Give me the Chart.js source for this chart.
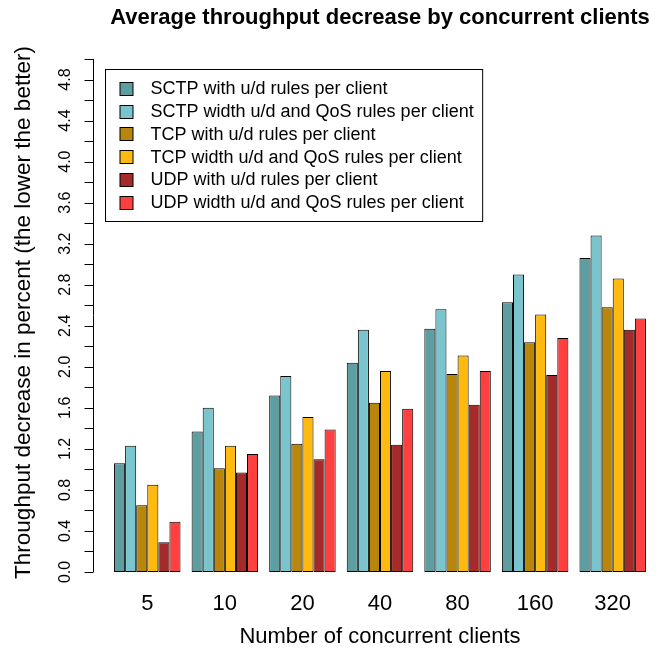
<!DOCTYPE html>
<html>
<head>
<meta charset="utf-8">
<script src="https://cdn.jsdelivr.net/npm/chart.js@4.4.1/dist/chart.umd.min.js"></script>
<style>
html, body { margin: 0; padding: 0; background: #fff; }
#wrap { width: 663px; height: 652px; }
</style>
</head>
<body>
<div id="wrap"><canvas id="chart" width="663" height="652"></canvas></div>
<script>
// data
const clients = ['5', '10', '20', '40', '80', '160', '320'];
const sctpUd  = [1.06, 1.37, 1.72, 2.04, 2.37, 2.63, 3.06];
const sctpQos = [1.23, 1.60, 1.91, 2.36, 2.56, 2.90, 3.28];
const tcpUd   = [0.65, 1.01, 1.25, 1.65, 1.93, 2.24, 2.58];
const tcpQos  = [0.85, 1.23, 1.51, 1.96, 2.11, 2.51, 2.86];
const udpUd   = [0.29, 0.97, 1.10, 1.24, 1.63, 1.92, 2.36];
const udpQos  = [0.49, 1.15, 1.39, 1.59, 1.96, 2.28, 2.47];

const seriesNames = [
    'SCTP with u/d rules per client',
    'SCTP width u/d and QoS rules per client',
    'TCP with u/d rules per client',
    'TCP width u/d and QoS rules per client',
    'UDP with u/d rules per client',
    'UDP width u/d and QoS rules per client'
];
const seriesColors = ['#5F9EA0', '#7AC5CD', '#B8860B', '#FFB90F', '#A52A2A', '#FF4040'];

const yTickLabels = ['0.0', '0.4', '0.8', '1.2', '1.6', '2.0', '2.4', '2.8', '3.2', '3.6', '4.0', '4.4', '4.8'];
const yMinorTicks = [0, 0.2, 0.4, 0.6, 0.8, 1.0, 1.2, 1.4, 1.6, 1.8, 2.0, 2.2, 2.4, 2.6, 2.8, 3.0,
                     3.2, 3.4, 3.6, 3.8, 4.0, 4.2, 4.4, 4.6, 4.8, 5.0];

const FONT = "'Liberation Sans', Arial, Helvetica, sans-serif";
Chart.defaults.font.family = FONT;
Chart.defaults.color = '#000';

// R style y axis (detached from the bars) + rotated labels + legend box
const rStyle = {
    id: 'rStyle',
    afterDraw(chart) {
        const ctx = chart.ctx;
        const y = chart.scales.y;
        const area = chart.chartArea;
        const axisX = Math.round(area.left - 15.5) + 0.5;

        ctx.save();
        ctx.strokeStyle = '#000';
        ctx.lineWidth = 1;
        ctx.beginPath();
        ctx.moveTo(axisX, y.getPixelForValue(0));
        ctx.lineTo(axisX, y.getPixelForValue(5));
        yMinorTicks.forEach(v => {
            const py = Math.round(y.getPixelForValue(v)) + 0.5;
            ctx.moveTo(axisX, py);
            ctx.lineTo(axisX - 9, py);
        });
        ctx.stroke();

        ctx.fillStyle = '#000';
        ctx.font = '16px ' + FONT;
        ctx.textAlign = 'center';
        ctx.textBaseline = 'middle';
        yTickLabels.forEach(t => {
            const py = y.getPixelForValue(parseFloat(t));
            ctx.save();
            ctx.translate(axisX - 28, py);
            ctx.rotate(-Math.PI / 2);
            ctx.fillText(t, 0, 0);
            ctx.restore();
        });

        // y axis title
        ctx.font = '22.5px ' + FONT;
        ctx.save();
        ctx.translate(24, (y.getPixelForValue(0) + y.getPixelForValue(5)) / 2 - 3);
        ctx.rotate(-Math.PI / 2);
        ctx.fillText('Throughput decrease in percent (the lower the better)', 0, 0);
        ctx.restore();

        // legend
        ctx.font = '18px ' + FONT;
        const names = chart.data.datasets.map(d => d.label);
        const maxW = Math.max(...names.map(n => ctx.measureText(n).width));
        const bx = Math.round(area.left - 3.5) + 0.5;
        const by = Math.round(area.top + 10) + 0.5;
        const rowH = 22.7;
        const bw = 45 + maxW + 9;
        const bh = 19 * 2 + rowH * 5;
        ctx.fillStyle = '#fff';
        ctx.fillRect(bx, by, bw, bh);
        ctx.strokeRect(bx, by, bw, Math.round(bh));
        ctx.textAlign = 'left';
        chart.data.datasets.forEach((d, i) => {
            const cy = by + 19 + i * rowH;
            ctx.fillStyle = d.backgroundColor;
            ctx.fillRect(bx + 14.5, Math.round(cy - 6.5) + 0.5, 13, 13);
            ctx.strokeRect(bx + 14.5, Math.round(cy - 6.5) + 0.5, 13, 13);
            ctx.fillStyle = '#000';
            ctx.fillText(d.label, bx + 45, cy + 1);
        });
        ctx.restore();
    }
};

const values = [sctpUd, sctpQos, tcpUd, tcpQos, udpUd, udpQos];
const datasets = values.map((vals, i) => ({
    label: seriesNames[i],
    data: vals,
    backgroundColor: seriesColors[i],
    borderColor: '#000',
    borderWidth: 1,
    borderSkipped: false,
    barPercentage: 1,
    categoryPercentage: 6 / 7
}));

new Chart(document.getElementById('chart').getContext('2d'), {
    type: 'bar',
    data: { labels: clients, datasets: datasets },
    options: {
        responsive: false,
        animation: false,
        layout: { padding: { left: 108.5, right: 11.5, top: 0, bottom: 0 } },
        plugins: {
            legend: { display: false },
            tooltip: { enabled: false },
            title: {
                display: true,
                text: 'Average throughput decrease by concurrent clients',
                color: '#000',
                font: { size: 22, weight: 'bold' },
                padding: { top: 5, bottom: 27.6 }
            }
        },
        scales: {
            x: {
                grid: { display: false, drawTicks: false },
                border: { display: false },
                ticks: { font: { size: 22 }, color: '#000', padding: 19, maxRotation: 0 },
                title: {
                    display: true,
                    text: 'Number of concurrent clients',
                    font: { size: 22 },
                    color: '#000',
                    padding: { top: 0, bottom: 2 }
                },
                afterFit: s => { s.height = 80; }
            },
            y: { display: false, min: 0, max: 5 }
        }
    },
    plugins: [rStyle]
});
</script>
</body>
</html>
